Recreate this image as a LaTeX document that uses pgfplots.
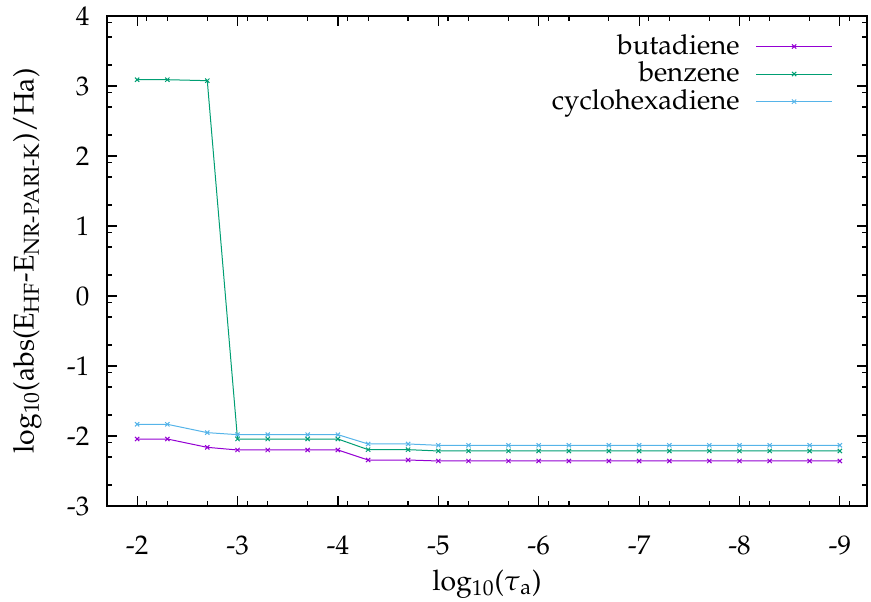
\documentclass[border=0pt]{standalone}
\usepackage[T1]{fontenc}
\usepackage{mathpazo}
\usepackage{pgfplots}
\pgfplotsset{compat=1.18}
\usepackage{pgfplotstable}
\definecolor{gpurple}{HTML}{9400D3}
\definecolor{ggreen}{HTML}{009E73}
\definecolor{gcyan}{HTML}{56B4E9}

% log10(tau_a) vs log10 of energy error
\pgfplotstableread{
x       buta    benz    cyclo
-2      -2.043  3.090   -1.833
-2.301  -2.043  3.090   -1.833
-2.699  -2.162  3.076   -1.952
-3      -2.200  -2.043  -1.981
-3.301  -2.200  -2.043  -1.981
-3.699  -2.200  -2.043  -1.981
-4      -2.200  -2.043  -1.981
-4.301  -2.343  -2.195  -2.114
-4.699  -2.343  -2.195  -2.114
-5      -2.357  -2.214  -2.133
-5.301  -2.357  -2.214  -2.133
-5.699  -2.357  -2.214  -2.133
-6      -2.357  -2.214  -2.133
-6.301  -2.357  -2.214  -2.133
-6.699  -2.357  -2.214  -2.133
-7      -2.357  -2.214  -2.133
-7.301  -2.357  -2.214  -2.133
-7.699  -2.357  -2.214  -2.133
-8      -2.357  -2.214  -2.133
-8.301  -2.357  -2.214  -2.133
-8.699  -2.357  -2.214  -2.133
-9      -2.357  -2.214  -2.133
}\data

\begin{document}
\fontsize{14}{16}\selectfont
\begin{tikzpicture}
\begin{axis}[
  scale only axis,
  width=380pt, height=245pt,
  x dir=reverse,
  xmin=-9.27, xmax=-1.7,
  ymin=-3, ymax=4,
  xtick={-2,-3,-4,-5,-6,-7,-8,-9},
  ytick={-3,-2,-1,0,1,2,3,4},
  minor xtick={-2.097,-2.301,-2.699,-3.097,-3.301,-3.699,-4.097,-4.301,-4.699,
    -5.097,-5.301,-5.699,-6.097,-6.301,-6.699,-7.097,-7.301,-7.699,
    -8.097,-8.301,-8.699,-9.097},
  minor ytick={-2.699,-2.301,-2.097,-1.699,-1.301,-1.097,-0.699,-0.301,-0.097,
    0.301,0.699,0.903,1.301,1.699,1.903,2.301,2.699,2.903,3.301,3.699,3.903},
  major tick length=5pt, minor tick length=2.4pt,
  tick style={black, line width=0.6pt},
  axis line style={line width=1pt},
  /pgf/number format/assume math mode=true,
  tick label style={font=\fontsize{13.5}{15}\selectfont},
  yticklabel style={xshift=-4pt},
  xticklabel style={yshift=-10pt},
  xlabel={log\textsubscript{10}($\tau$\textsubscript{a})},
  ylabel={log\textsubscript{10}(abs(E\textsubscript{HF}-E\textsubscript{NR-PARI-K})/Ha)},
  label style={font=\fontsize{14.2}{16}\selectfont},
  xlabel style={yshift=2pt},
  ylabel style={yshift=3pt},
  legend style={at={(1,1)}, anchor=north east, xshift=-14pt, yshift=-5pt,
    draw=none, fill=none, font=\fontsize{13.8}{16}\selectfont,
    row sep=-2.3pt, column sep=6pt},
  legend cell align=right,
  legend plot pos=right,
  legend image code/.code={
    \draw[mark repeat=2,mark phase=2] plot coordinates {(0pt,0pt) (19pt,0pt) (38pt,0pt)};
  },
  every axis plot/.append style={line width=0.5pt, mark=x, mark size=1.5pt,
    mark options={solid}},
]
\coordinate (sw) at (rel axis cs:0,0);
\coordinate (ne) at (rel axis cs:1,1);
\addplot[gpurple] table[x=x,y=buta] {\data};
\addlegendentry{butadiene}
\addplot[ggreen] table[x=x,y=benz] {\data};
\addlegendentry{benzene}
\addplot[gcyan] table[x=x,y=cyclo] {\data};
\addlegendentry{cyclohexadiene}
\end{axis}
\pgfresetboundingbox
\useasboundingbox ([xshift=-53.5pt,yshift=-48pt]sw) rectangle ([xshift=2pt,yshift=8pt]ne);
\end{tikzpicture}
\end{document}
